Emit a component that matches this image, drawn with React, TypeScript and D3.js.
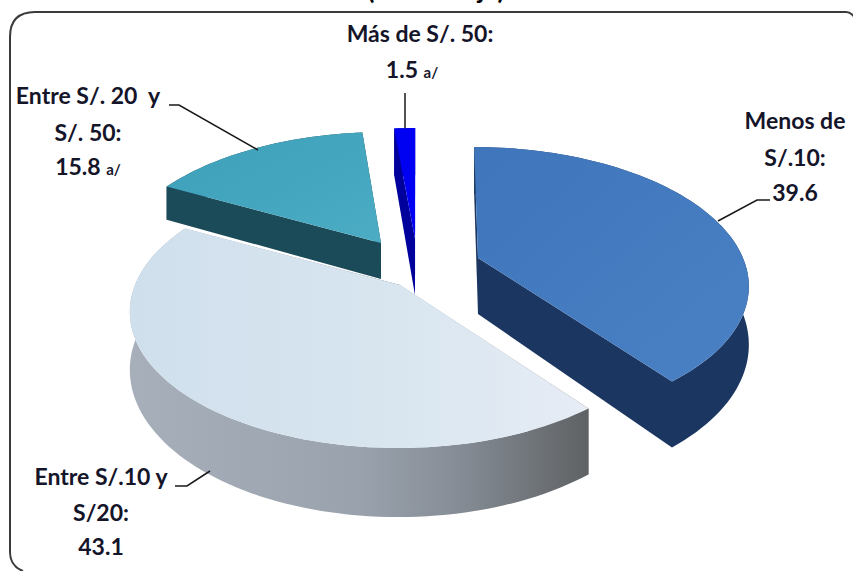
import React, { useMemo } from "react";
import * as d3 from "d3";

// Distribution by amount spent, percent
const categories = ["Menos de S/.10", "Entre S/.10 y S/20", "Entre S/. 20 y S/. 50", "Más de S/. 50"];
const shares = [39.6, 43.1, 15.8, 1.5];

const topFills = ["url(#topBlue)", "url(#topLight)", "url(#topTeal)", "#0000f2"];
const wallFills = ["#1b3660", "url(#wallLight)", "#1b4b59", "#00009c"];
// Exploded hub of every wedge, on the page
const hubs: [number, number][] = [[478, 258], [400, 285], [381, 243], [415, 239]];
// Height of the visible side walls
const depths = [56, 56, 36, 56];
// Painter's order: back wedges first
const paintOrder = [2, 3, 0, 1];

const RX = 265;
const RY = 132;
const PERSPECTIVE = 0.19;
const VANISH_X = 418;
const SHEAR = 0.4;
const FONT = "Lato, 'Open Sans', sans-serif";
const INK = "#15152a";

function project(hub: [number, number], radius: number, theta: number, drop: number): [number, number] {
  const u = Math.sin(theta) * radius;
  const v = -Math.cos(theta) * radius;
  const s = 1 / (1 - PERSPECTIVE * v);
  return [
    hub[0] + RX * u * s + (hub[0] - VANISH_X) * (s - 1) * SHEAR,
    hub[1] + RY * v * s + drop * s,
  ];
}

const toPath = d3.line<[number, number]>().x((p) => p[0]).y((p) => p[1]);

function rimPoints(hub: [number, number], a0: number, a1: number, drop: number) {
  const n = Math.max(4, Math.ceil((a1 - a0) / 0.03));
  return d3.range(n + 1).map((i) => project(hub, 1, a0 + ((a1 - a0) * i) / n, drop));
}

function Wedge({ index, a0, a1 }: { index: number; a0: number; a1: number }) {
  const hub = hubs[index];
  const drop = depths[index];
  const top = rimPoints(hub, a0, a1, 0);
  const low = rimPoints(hub, a0, a1, drop);
  const hubTop = project(hub, 0, 0, 0);
  const hubLow = project(hub, 0, 0, drop);
  const band = [...top, ...low.slice().reverse()];
  const startFace = [hubTop, top[0], low[0], hubLow];
  const endFace = [hubTop, top[top.length - 1], low[low.length - 1], hubLow];
  const wall = wallFills[index];
  return (
    <g>
      <path d={toPath(startFace) + "Z"} fill={wall} />
      <path d={toPath(endFace) + "Z"} fill={wall} />
      <path d={toPath(band) + "Z"} fill={wall} />
      <path d={toPath([hubTop, ...top]) + "Z"} fill={topFills[index]} />
    </g>
  );
}

type Run = { text: string; small?: boolean };
function Label({ x, y, runs }: { x: number; y: number; runs: Run[] }) {
  return (
    <text x={x} y={y} textAnchor="middle" fontFamily={FONT} fontWeight={700} fontSize={23} fill={INK}>
      {runs.map((r, i) => (
        <tspan key={i} fontSize={r.small ? 15 : undefined}>{r.text}</tspan>
      ))}
    </text>
  );
}

export default function App() {
  const arcs = useMemo(
    () => d3.pie<number>().sort(null).startAngle(0).endAngle(2 * Math.PI)(shares),
    []
  );
  return (
    <svg
      width={853}
      height={571}
      viewBox="0 0 853 571"
      style={{ position: "absolute", left: 0, top: 0, display: "block", background: "#fff" }}
      aria-label={categories.join(", ")}
    >
      <defs>
        <linearGradient id="topBlue" x1="0" y1="0" x2="1" y2="1">
          <stop offset="0" stopColor="#3f76bb" />
          <stop offset="1" stopColor="#4a80c4" />
        </linearGradient>
        <linearGradient id="topTeal" x1="0" y1="0" x2="1" y2="1">
          <stop offset="0" stopColor="#3e9fba" />
          <stop offset="1" stopColor="#4bacc4" />
        </linearGradient>
        <linearGradient id="topLight" x1="0" y1="0" x2="1" y2="0">
          <stop offset="0" stopColor="#cfdfec" />
          <stop offset="0.6" stopColor="#d9e6f0" />
          <stop offset="1" stopColor="#e7ecf5" />
        </linearGradient>
        <linearGradient id="wallLight" x1="0" y1="0" x2="1" y2="0">
          <stop offset="0" stopColor="#a7b0ba" />
          <stop offset="0.5" stopColor="#9aa2ad" />
          <stop offset="0.72" stopColor="#858c95" />
          <stop offset="1" stopColor="#5f6264" />
        </linearGradient>
      </defs>

      {/* Heading, cut by the top of the page */}
      <text x={436} y={-1} textAnchor="middle" fontFamily={FONT} fontWeight={700} fontSize={26} fill="#000">
        (Porcentaje)
      </text>

      {/* Rounded frame, running off the right and bottom page edges */}
      <path
        d="M23,571Q10,566 10,552V37Q10,12 35,12H846Q851,12 855,18"
        fill="none"
        stroke="#3a3a3a"
        strokeWidth={2}
      />

      {paintOrder.map((i) => (
        <Wedge key={i} index={i} a0={arcs[i].startAngle} a1={arcs[i].endAngle} />
      ))}

      {/* Leader lines */}
      <g fill="none" stroke="#1a1a1a" strokeWidth={1.5}>
        <path d="M405,93V128" />
        <path d="M169,105H179L258,150" />
        <path d="M770,200H757L718,221" />
        <path d="M175,486H187L210,471" />
      </g>

      <Label x={420} y={42} runs={[{ text: "Más de S/. 50:" }]} />
      <Label x={412} y={78} runs={[{ text: "1.5 " }, { text: "a/", small: true }]} />
      <Label x={88} y={104} runs={[{ text: "Entre S/. 20\u00a0 y" }]} />
      <Label x={88} y={141} runs={[{ text: "S/. 50:" }]} />
      <Label x={88} y={175} runs={[{ text: "15.8 " }, { text: "a/", small: true }]} />
      <Label x={795} y={129} runs={[{ text: "Menos de" }]} />
      <Label x={795} y={166} runs={[{ text: "S/.10:" }]} />
      <Label x={795} y={201} runs={[{ text: "39.6" }]} />
      <Label x={101} y={485} runs={[{ text: "Entre S/.10 y" }]} />
      <Label x={101} y={521} runs={[{ text: "S/20:" }]} />
      <Label x={101} y={555} runs={[{ text: "43.1" }]} />
    </svg>
  );
}
